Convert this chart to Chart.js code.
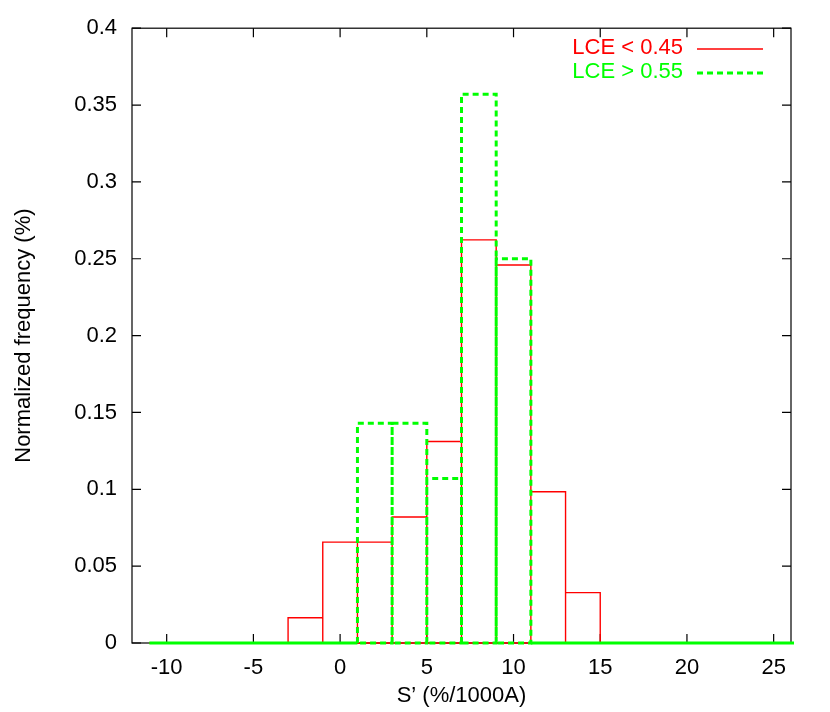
<!DOCTYPE html>
<html><head><meta charset="utf-8">
<script src="https://cdn.jsdelivr.net/npm/chart.js@4.4.0/dist/chart.umd.min.js"></script>
<style>html,body{margin:0;padding:0;background:#fff}#wrap{width:830px;height:712px;position:relative}</style>
</head><body><div id="wrap"><canvas id="c"></canvas></div>
<script>
// ---- data ----
const binCenters = [-10,-8,-6,-4,-2,0,2,4,6,8,10,12,14,16,18,20,22,24,26];
const lowLCE  = [0,0,0,0,0.0164,0.0656,0.0656,0.0820,0.1311,0.2623,0.2459,0.0984,0.0328,0,0,0,0,0,0];
const highLCE = [0,0,0,0,0,0,0.1429,0.1429,0.1071,0.3571,0.2500,0,0,0,0,0,0,0,0];
const binWidth = 2;
const xTicks = [-10,-5,0,5,10,15,20,25];
const yTicks = [0,0.05,0.1,0.15,0.2,0.25,0.3,0.35,0.4];
const lowLabel = 'LCE < 0.45';
const highLabel = 'LCE > 0.55';
const xTitle = 'S\u2019 (%/1000A)';
const yTitle = 'Normalized frequency (%)';

const FONT = {family: '"Liberation Sans", Arial, sans-serif', size: 22};
const RED = '#ff0000', GREEN = '#00ff00';
const CLIP = {left: 2, top: 2, right: 3, bottom: 3};

// box outlines (gnuplot "with boxes") built from the bins
function boxes(values, keep) {
  const pts = [];
  values.forEach((v, i) => {
    if (!keep(v)) return;
    const l = binCenters[i] - binWidth / 2, r = binCenters[i] + binWidth / 2;
    pts.push({x:l,y:0},{x:l,y:v},{x:r,y:v},{x:r,y:0},{x:l,y:0},{x:r,y:null});
  });
  return pts;
}

const frameTicks = {
  id: 'frameTicks',
  beforeDatasetsDraw(chart) {
    const {ctx, chartArea: a, scales: {x, y}} = chart;
    ctx.save();
    ctx.strokeStyle = '#000'; ctx.lineWidth = 1.2;
    ctx.strokeRect(a.left, a.top, a.right - a.left, a.bottom - a.top);
    const L = 9;
    ctx.beginPath();
    xTicks.forEach(v => {
      const px = x.getPixelForValue(v);
      ctx.moveTo(px, a.bottom); ctx.lineTo(px, a.bottom - L);
      ctx.moveTo(px, a.top); ctx.lineTo(px, a.top + L);
    });
    yTicks.forEach(v => {
      const py = y.getPixelForValue(v);
      ctx.moveTo(a.left, py); ctx.lineTo(a.left + L, py);
      ctx.moveTo(a.right, py); ctx.lineTo(a.right - L, py);
    });
    ctx.stroke();
    ctx.restore();
  },
  afterDraw(chart) {
    const ctx = chart.ctx;
    const items = chart.data.datasets.filter(d => d.inLegend).sort((p, q) => p.legendRank - q.legendRank);
    ctx.save();
    ctx.font = FONT.size + 'px ' + FONT.family;
    ctx.textAlign = 'right'; ctx.textBaseline = 'middle';
    items.forEach((d, k) => {
      const yy = 48 + k * 24;
      ctx.fillStyle = d.borderColor;
      ctx.fillText(d.label, 683, yy);
      ctx.strokeStyle = d.borderColor; ctx.lineWidth = d.borderWidth;
      ctx.setLineDash(d.borderDash || []);
      ctx.beginPath(); ctx.moveTo(697, yy + 1); ctx.lineTo(763, yy + 1); ctx.stroke();
    });
    ctx.restore();
  }
};

new Chart(document.getElementById('c'), {
  type: 'scatter',
  data: {
    datasets: [
      {label: highLabel, data: boxes(highLCE, v => v > 0), showLine: true, borderColor: GREEN,
       borderWidth: 3, borderDash: [6, 4], pointRadius: 0, spanGaps: false, order: 0, clip: CLIP,
       inLegend: true, legendRank: 1},
      {label: highLabel + ' (empty bins)', data: boxes(highLCE, v => v === 0), showLine: true,
       borderColor: GREEN, borderWidth: 3, pointRadius: 0, spanGaps: false, order: 1, clip: CLIP},
      {label: lowLabel, data: boxes(lowLCE, () => true), showLine: true, borderColor: RED,
       borderWidth: 1.4, pointRadius: 0, spanGaps: false, order: 2, clip: CLIP,
       inLegend: true, legendRank: 0}
    ]
  },
  options: {
    responsive: true, maintainAspectRatio: false, animation: false,
    layout: {padding: {top: 27, right: 39, left: 0, bottom: 0}},
    plugins: {legend: {display: false}, tooltip: {enabled: false}},
    scales: {
      x: {
        type: 'linear', position: 'bottom', min: -12, max: 26,
        grid: {display: false, drawTicks: false, tickLength: 0},
        border: {display: false},
        afterBuildTicks: s => { s.ticks = xTicks.map(v => ({value: v})); },
        afterFit: s => { s.height = 69; },
        ticks: {color: '#000', font: FONT, padding: 12, maxRotation: 0, autoSkip: false,
                callback: v => String(v)},
        title: {display: true, text: xTitle, color: '#000', font: FONT, padding: {top: 0, bottom: 3}}
      },
      y: {
        type: 'linear', position: 'left', min: 0, max: 0.4,
        grid: {display: false, drawTicks: false, tickLength: 0},
        border: {display: false},
        afterBuildTicks: s => { s.ticks = yTicks.map(v => ({value: v})); },
        afterFit: s => { s.width = 132; },
        ticks: {color: '#000', font: FONT, padding: 15, autoSkip: false,
                callback: v => String(+(+v).toFixed(2))},
        title: {display: true, text: yTitle, color: '#000', font: FONT, padding: {top: 11, bottom: 0}}
      }
    }
  },
  plugins: [frameTicks]
});
</script></body></html>
